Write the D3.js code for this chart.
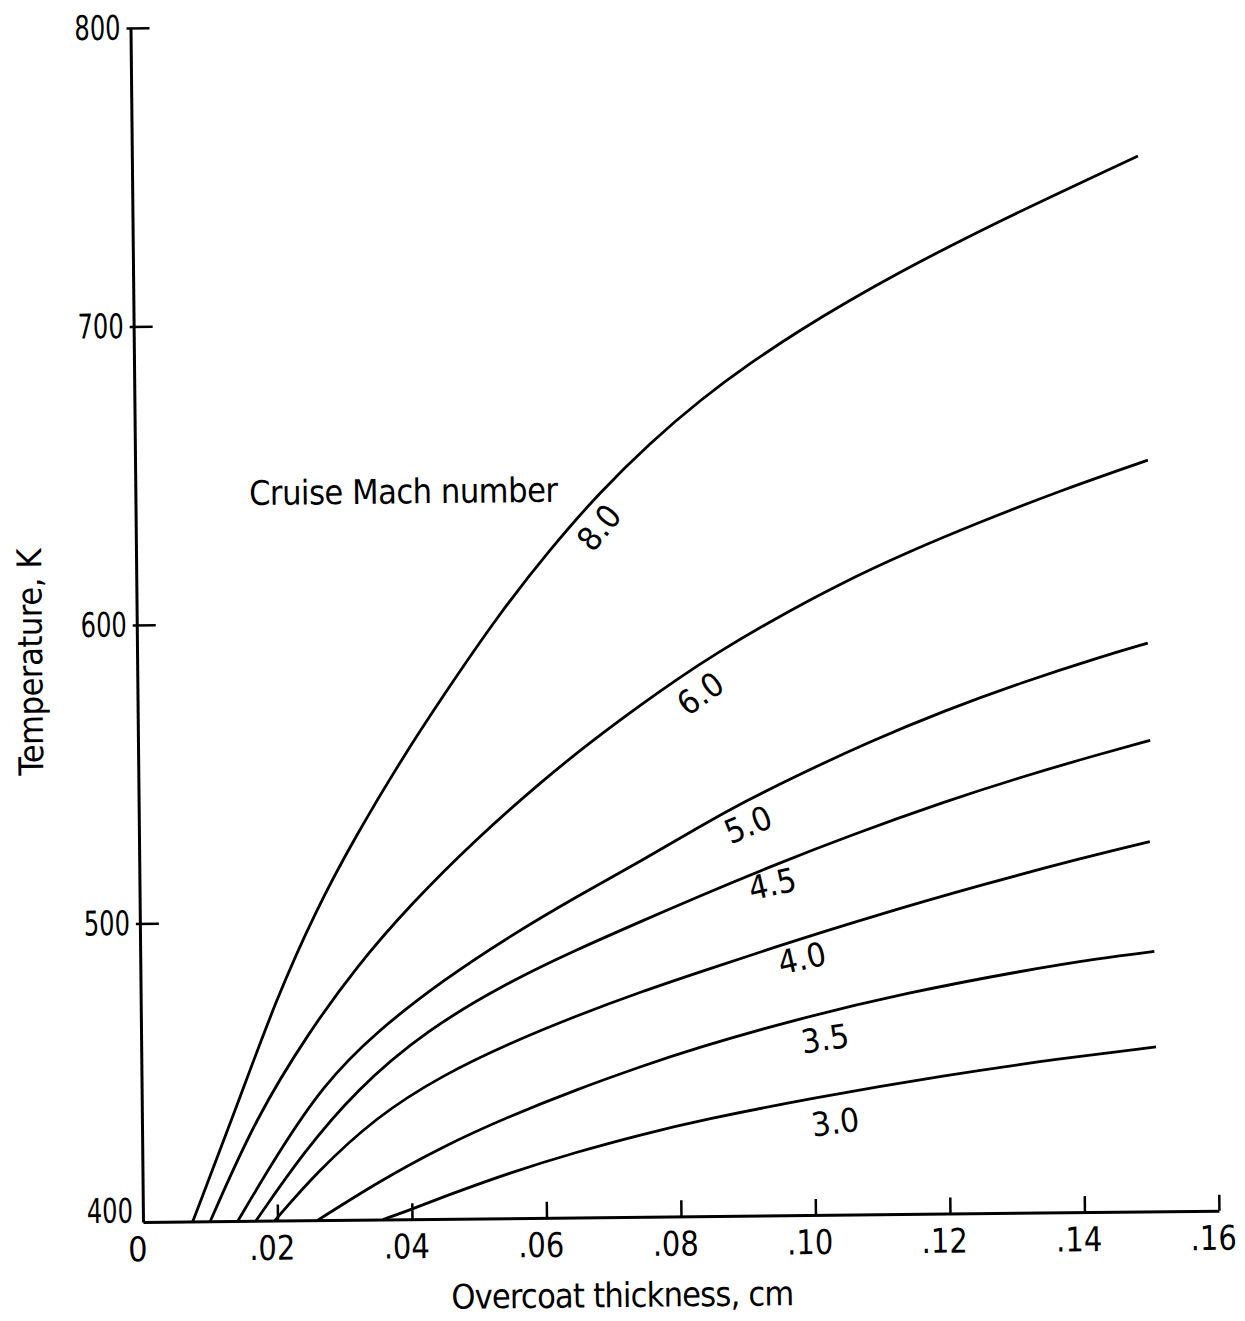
<!DOCTYPE html>
<html>
<head>
<meta charset="utf-8">
<script src="https://cdn.jsdelivr.net/npm/d3@7"></script>
<style>
  body { margin: 0; background: #fff; }
  text { font-family: "Liberation Sans Narrow", "DejaVu Sans Condensed", "Arial Narrow", sans-serif; fill: #000; }
</style>
</head>
<body>
<svg id="chart" width="1245" height="1321"></svg>
<script>
// overcoat thickness (cm) and temperature (K) for each cruise Mach number
const thick_80 = [.0074, .0146, .0201, .0262, .0323, .0394, .0450, .0540, .0616, .0691, .0766, .0841, .0916, .0991, .1066, .1141, .1215, .1290, .1365, .1439, .1496];
const temp_80  = [400, 441.2, 473.9, 503.9, 528.9, 554.9, 573.8, 602.8, 624, 643, 659.2, 673.4, 685.6, 696.5, 706.4, 715.6, 724.1, 732.3, 740.2, 747.7, 753.6];

const thick_60 = [.0100, .0170, .0251, .0321, .0402, .0501, .0602, .0677, .0752, .0803, .0860, .0946, .1043, .1148, .1263, .1378, .1506];
const temp_60  = [400, 434.8, 463.4, 484.7, 505.3, 527.1, 546.7, 559.9, 572.1, 580, 588.3, 599.5, 611, 621.8, 632.2, 642, 651.7];

const thick_50 = [.0141, .0199, .0270, .0349, .0450, .0550, .0649, .0749, .0835, .0903, .0972, .1087, .1202, .1317, .1432, .1503];
const temp_50  = [400, 421.6, 445.3, 462.8, 480, 494.5, 507.4, 519.5, 530.7, 538.9, 546.5, 558.3, 568.7, 577.8, 585.9, 590.4];

const thick_45 = [.0168, .0239, .0319, .0424, .0550, .0648, .0748, .0833, .0942, .1057, .1201, .1316, .1430, .1505];
const temp_45  = [400, 422.6, 443.5, 463.3, 479.4, 489.6, 499.2, 507.3, 517.2, 527, 538.2, 546.2, 553.4, 557.8];

const thick_40 = [.0196, .0258, .0348, .0448, .0549, .0647, .0747, .0832, .0941, .1084, .1257, .1401, .1503];
const temp_40  = [400, 415.8, 434.4, 448.2, 458.7, 467.5, 475.6, 481.8, 489.7, 499.5, 510.3, 518.6, 523.9];

const thick_35 = [.0260, .0347, .0447, .0547, .0646, .0746, .0825, .0968, .1141, .1312, .1427, .1508];
const temp_35  = [400, 412.2, 424.3, 434.2, 442.8, 450.6, 456.3, 465.3, 474.2, 481.1, 485, 487.1];

const thick_30 = [.0357, .0397, .0447, .0547, .0645, .0745, .0830, .0997, .1196, .1369, .1509];
const temp_30  = [400, 403.1, 407.4, 415.3, 421.9, 427.7, 432.1, 439.2, 446.4, 451.6, 455.1];

const machNumbers = ["8.0", "6.0", "5.0", "4.5", "4.0", "3.5", "3.0"];
const labelThick  = [.0689, .0837, .0906, .0941, .0984, .1017, .1031];
const labelTemp   = [631, 575, 531, 511, 486, 459, 431];
const labelAngle  = [-50, -35, -22, -12, -12, -8, -7];

const xTicks = [0, .02, .04, .06, .08, .10, .12, .14, .16];
const xTickLabels = ["0", ".02", ".04", ".06", ".08", ".10", ".12", ".14", ".16"];
const yTicks = [400, 500, 600, 700, 800];
const yTickLabels = ["400", "500", "600", "700", "800"];

const curves = [
    [thick_80, temp_80], [thick_60, temp_60], [thick_50, temp_50], [thick_45, temp_45],
    [thick_40, temp_40], [thick_35, temp_35], [thick_30, temp_30]
];

// plot frame (the scanned figure is a little tilted)
const x0 = 143, y0 = 1222;
const x = d3.scaleLinear().domain([0, .16]).range([x0, x0 + 1076]);
const y = d3.scaleLinear().domain([400, 800]).range([y0, y0 - 1194]);

const svg = d3.select("#chart");
svg.append("rect").attr("width", 1245).attr("height", 1321).attr("fill", "#fff");

const g = svg.append("g").attr("transform", "rotate(-0.6," + x0 + "," + y0 + ")");

// axes
const xAxis = d3.axisBottom(x)
    .tickValues(xTicks)
    .tickFormat((d, i) => xTickLabels[i])
    .tickSizeInner(-16)
    .tickSizeOuter(0)
    .tickPadding(15);

const gx = g.append("g").attr("transform", "translate(0," + y0 + ")").call(xAxis);
gx.select(".domain").attr("stroke", "#000").attr("stroke-width", 3);
gx.selectAll(".tick line").attr("stroke", "#000").attr("stroke-width", 2.5)
    .filter(d => d === 0).remove();
gx.selectAll(".tick text").attr("font-size", 34).attr("dx", -6)
    .filter(d => d !== 0)
    .attr("textLength", 46)
    .attr("lengthAdjust", "spacingAndGlyphs");

const yAxis = d3.axisLeft(y)
    .tickValues(yTicks)
    .tickFormat((d, i) => yTickLabels[i])
    .tickSizeInner(-19)
    .tickSizeOuter(0)
    .tickPadding(10);

const gy = g.append("g").attr("transform", "translate(" + x0 + ",0)").call(yAxis);
gy.select(".domain").attr("stroke", "#000").attr("stroke-width", 3);
gy.selectAll(".tick line").attr("stroke", "#000").attr("stroke-width", 2.5).attr("x1", -4)
    .filter(d => d === 400).remove();
gy.selectAll(".tick text").attr("font-size", 34)
    .attr("textLength", 46)
    .attr("lengthAdjust", "spacingAndGlyphs")
    .filter(d => d === 400)
    .attr("y", -11);

// curves
const line = d3.line()
    .x(d => x(d[0]))
    .y(d => y(d[1]))
    .curve(d3.curveBasis);

g.selectAll(".curve")
    .data(curves)
    .enter()
    .append("path")
    .attr("class", "curve")
    .attr("d", c => line(c[0].map((t, i) => [t, c[1][i]])))
    .attr("fill", "none")
    .attr("stroke", "#000")
    .attr("stroke-width", 2.8);

// curve labels
g.selectAll(".mach")
    .data(machNumbers)
    .enter()
    .append("text")
    .attr("class", "mach")
    .attr("transform", (d, i) => "translate(" + x(labelThick[i]) + "," + y(labelTemp[i]) + ") rotate(" + labelAngle[i] + ")")
    .attr("text-anchor", "middle")
    .attr("dominant-baseline", "central")
    .attr("font-size", 33)
    .attr("textLength", 48)
    .attr("lengthAdjust", "spacingAndGlyphs")
    .text(d => d);

g.append("text")
    .attr("x", x(.0169))
    .attr("y", y(639.8))
    .attr("font-size", 34)
    .attr("textLength", 309)
    .attr("lengthAdjust", "spacing")
    .text("Cruise Mach number");

// axis titles
g.append("text")
    .attr("x", 622)
    .attr("y", 1312)
    .attr("text-anchor", "middle")
    .attr("font-size", 34)
    .attr("textLength", 343)
    .attr("lengthAdjust", "spacing")
    .text("Overcoat thickness, cm");

g.append("text")
    .attr("transform", "translate(48,661) rotate(-90)")
    .attr("text-anchor", "middle")
    .attr("font-size", 34)
    .attr("textLength", 227)
    .attr("lengthAdjust", "spacing")
    .text("Temperature, K");
</script>
</body>
</html>
